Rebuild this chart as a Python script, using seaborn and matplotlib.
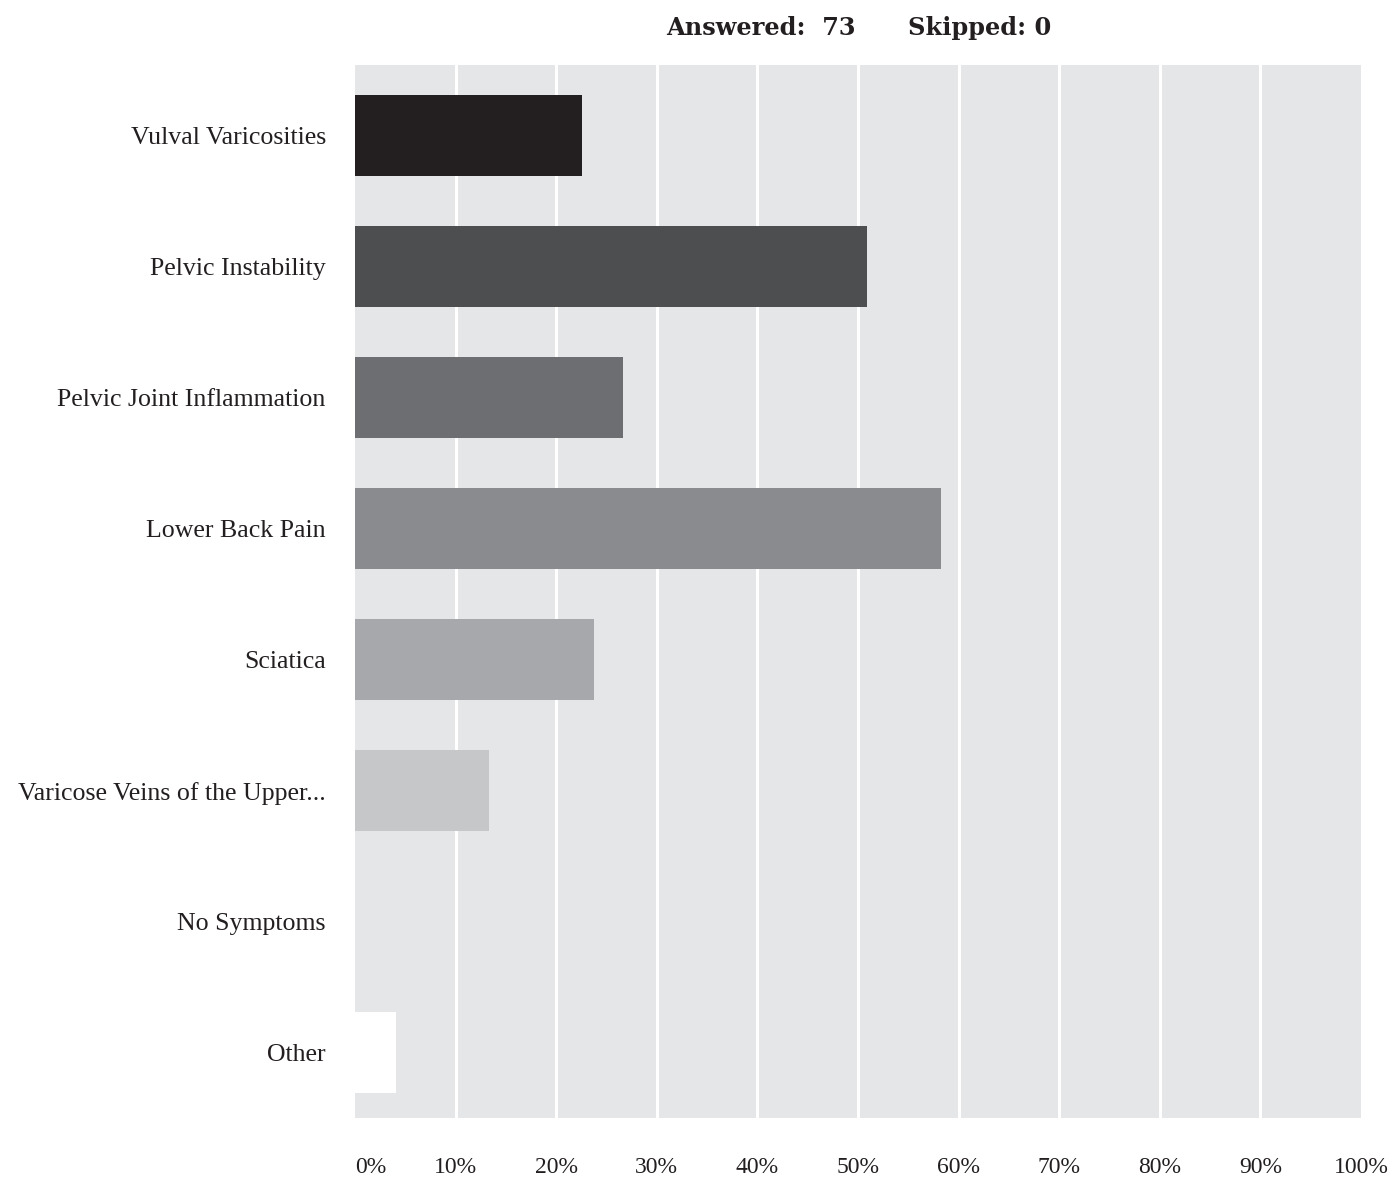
import matplotlib
matplotlib.use("Agg")
import matplotlib.pyplot as plt
import seaborn as sns
import pandas as pd

categories = ["Vulval Varicosities", "Pelvic Instability", "Pelvic Joint Inflammation",
              "Lower Back Pain", "Sciatica", "Varicose Veins of the Upper...",
              "No Symptoms", "Other"]
values = [22.6, 50.9, 26.6, 58.3, 23.8, 13.3, 0.0, 4.1]
colors = ["#231f20", "#4d4e50", "#6d6e71", "#8a8b8e", "#a7a8ab", "#c6c7c9", "#e1e2e3", "#ffffff"]
tick_values = list(range(0, 101, 10))
tick_labels = [f"{v}%" for v in tick_values]
answered = 73
skipped = 0

sns.set_theme(style="white")
plt.rcParams['font.family'] = ['Liberation Serif', 'DejaVu Serif']

df = pd.DataFrame({"cat": categories, "val": values})

fig = plt.figure(figsize=(14, 11.78), dpi=100)
ax = fig.add_axes([355/1400, 1 - 1118/1178, (1361-355)/1400, (1118-65)/1178])
ax.set_facecolor("#e5e6e8")

sns.barplot(data=df, x="val", y="cat", hue="cat", palette=colors, order=categories,
            hue_order=categories, orient="h", width=0.62, legend=False, ax=ax,
            saturation=1, linewidth=0, zorder=3)

ax.set_xlim(0, 100)
ax.set_ylim(7.5, -0.54)
ax.set_xticks(tick_values)
ax.set_xticklabels(tick_labels, fontsize=17, color="#231f20")
labs = ax.get_xticklabels()
labs[0].set_horizontalalignment("left")
ax.tick_params(axis="x", length=0, pad=28)
ax.tick_params(axis="y", length=0, pad=21, labelsize=18.6, labelcolor="#231f20")
for v in tick_values[1:-1]:
    ax.axvline(v, color="white", linewidth=2.2, zorder=1)
ax.set_xlabel("")
ax.set_ylabel("")
for s in ax.spines.values():
    s.set_visible(False)

fig.text(666/1400, 1 - 28/1178, f"Answered:  {answered}", fontsize=17.3, fontweight="bold",
         family=["DejaVu Serif"], color="#231f20", ha="left", va="center")
fig.text(908/1400, 1 - 28/1178, f"Skipped: {skipped}", fontsize=17.3, fontweight="bold",
         family=["DejaVu Serif"], color="#231f20", ha="left", va="center")

fig.savefig("out.png", dpi=100, facecolor="white")
